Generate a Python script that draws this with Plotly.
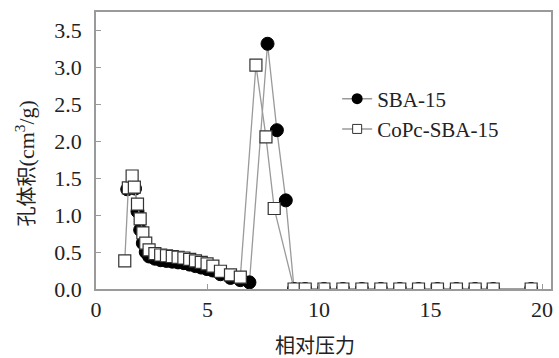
import plotly.graph_objects as go

zero_x = [8.88, 9.38, 10.22, 11.07, 11.92, 12.77, 13.62, 14.46, 15.31, 16.16, 17.0, 17.81, 19.51]

sba_x = [1.40, 1.75, 1.86, 1.98, 2.10, 2.23, 2.38, 2.64, 2.90, 3.16, 3.42, 3.68, 3.94, 4.20,
         4.46, 4.72, 4.98, 5.24, 5.58, 6.03, 6.47, 6.88, 7.69, 8.11, 8.51] + zero_x
sba_y = [1.35, 1.36, 1.05, 0.80, 0.62, 0.50, 0.44, 0.41, 0.39, 0.38, 0.37, 0.36, 0.35, 0.33,
         0.31, 0.29, 0.27, 0.25, 0.20, 0.15, 0.12, 0.09, 3.32, 2.15, 1.20] + [0.0] * len(zero_x)

copc_x = [1.29, 1.45, 1.62, 1.72, 1.86, 1.98, 2.10, 2.23, 2.38, 2.64, 2.90, 3.16, 3.42, 3.68,
          3.94, 4.20, 4.46, 4.72, 4.98, 5.24, 5.58, 6.03, 6.47, 7.17, 7.62, 7.99] + zero_x
copc_y = [0.38, 1.37, 1.53, 1.38, 1.15, 0.95, 0.76, 0.62, 0.53, 0.48, 0.46, 0.45, 0.44, 0.43,
          0.42, 0.40, 0.38, 0.36, 0.34, 0.31, 0.24, 0.19, 0.16, 3.03, 2.06, 1.09] + [0.0] * len(zero_x)

x_ticks = [0, 5, 10, 15, 20]
y_ticks = [0.0, 0.5, 1.0, 1.5, 2.0, 2.5, 3.0, 3.5]

x_title = "相对压力"
y_title = "孔体积<span style='font-family:Times New Roman, Liberation Serif, serif;font-size:22px'>(cm<sup>3</sup>/g)</span>"

serif = "Times New Roman, Liberation Serif, DejaVu Serif, serif"
cjk = "Noto Sans CJK SC"
grey = "#9a9a9a"
txt = "#222222"

fig = go.Figure()
fig.add_trace(go.Scatter(
    x=sba_x, y=sba_y, mode="lines+markers", name="SBA-15", showlegend=False,
    line=dict(color=grey, width=1.3),
    marker=dict(symbol="circle", size=13, color="black", line=dict(color="black", width=1)),
))
fig.add_trace(go.Scatter(
    x=copc_x, y=copc_y, mode="lines+markers", name="CoPc-SBA-15", showlegend=False,
    line=dict(color=grey, width=1.3),
    marker=dict(symbol="square", size=12, color="white", line=dict(color="#333333", width=1.2)),
))
# legend entries (smaller symbols, as in the reference legend)
fig.add_trace(go.Scatter(
    x=[None], y=[None], mode="lines+markers", name="SBA-15",
    line=dict(color=grey, width=1.5),
    marker=dict(symbol="circle", size=11, color="black"),
))
fig.add_trace(go.Scatter(
    x=[None], y=[None], mode="lines+markers", name="CoPc-SBA-15",
    line=dict(color=grey, width=1.5),
    marker=dict(symbol="square", size=9, color="white", line=dict(color="#333333", width=1)),
))

axis_common = dict(
    showline=True, linecolor=grey, linewidth=1.5, mirror=True,
    ticks="inside", ticklen=5, tickcolor=grey, tickwidth=1,
    showgrid=False, zeroline=False,
    tickfont=dict(family=serif, size=22, color=txt),
)

fig.update_layout(
    width=559, height=358,
    margin=dict(l=96, r=6, t=12, b=69),
    paper_bgcolor="white", plot_bgcolor="white",
    showlegend=True,
    font=dict(family=serif, color=txt),
    legend=dict(x=0.53, y=0.76, xanchor="left", yanchor="top",
                font=dict(family=serif, size=21, color=txt),
                bgcolor="rgba(0,0,0,0)", tracegroupgap=0),
    xaxis=dict(range=[0, 20.4], tickvals=x_ticks, ticktext=[str(v) for v in x_ticks],
               **axis_common),
    yaxis=dict(range=[0, 3.75], tickvals=y_ticks, ticktext=[f"{v:.1f}" for v in y_ticks],
               ticklabelstandoff=8, **axis_common),
    annotations=[
        dict(text=x_title, xref="paper", yref="paper", x=0.481, y=-0.2,
             xanchor="center", yanchor="middle", showarrow=False,
             font=dict(family=cjk, size=20, color=txt)),
        dict(text=y_title, xref="paper", yref="paper", x=-0.155, y=0.455,
             xanchor="center", yanchor="middle", showarrow=False, textangle=-90,
             font=dict(family=cjk, size=20, color=txt)),
    ],
)

fig.write_html("out.html")
